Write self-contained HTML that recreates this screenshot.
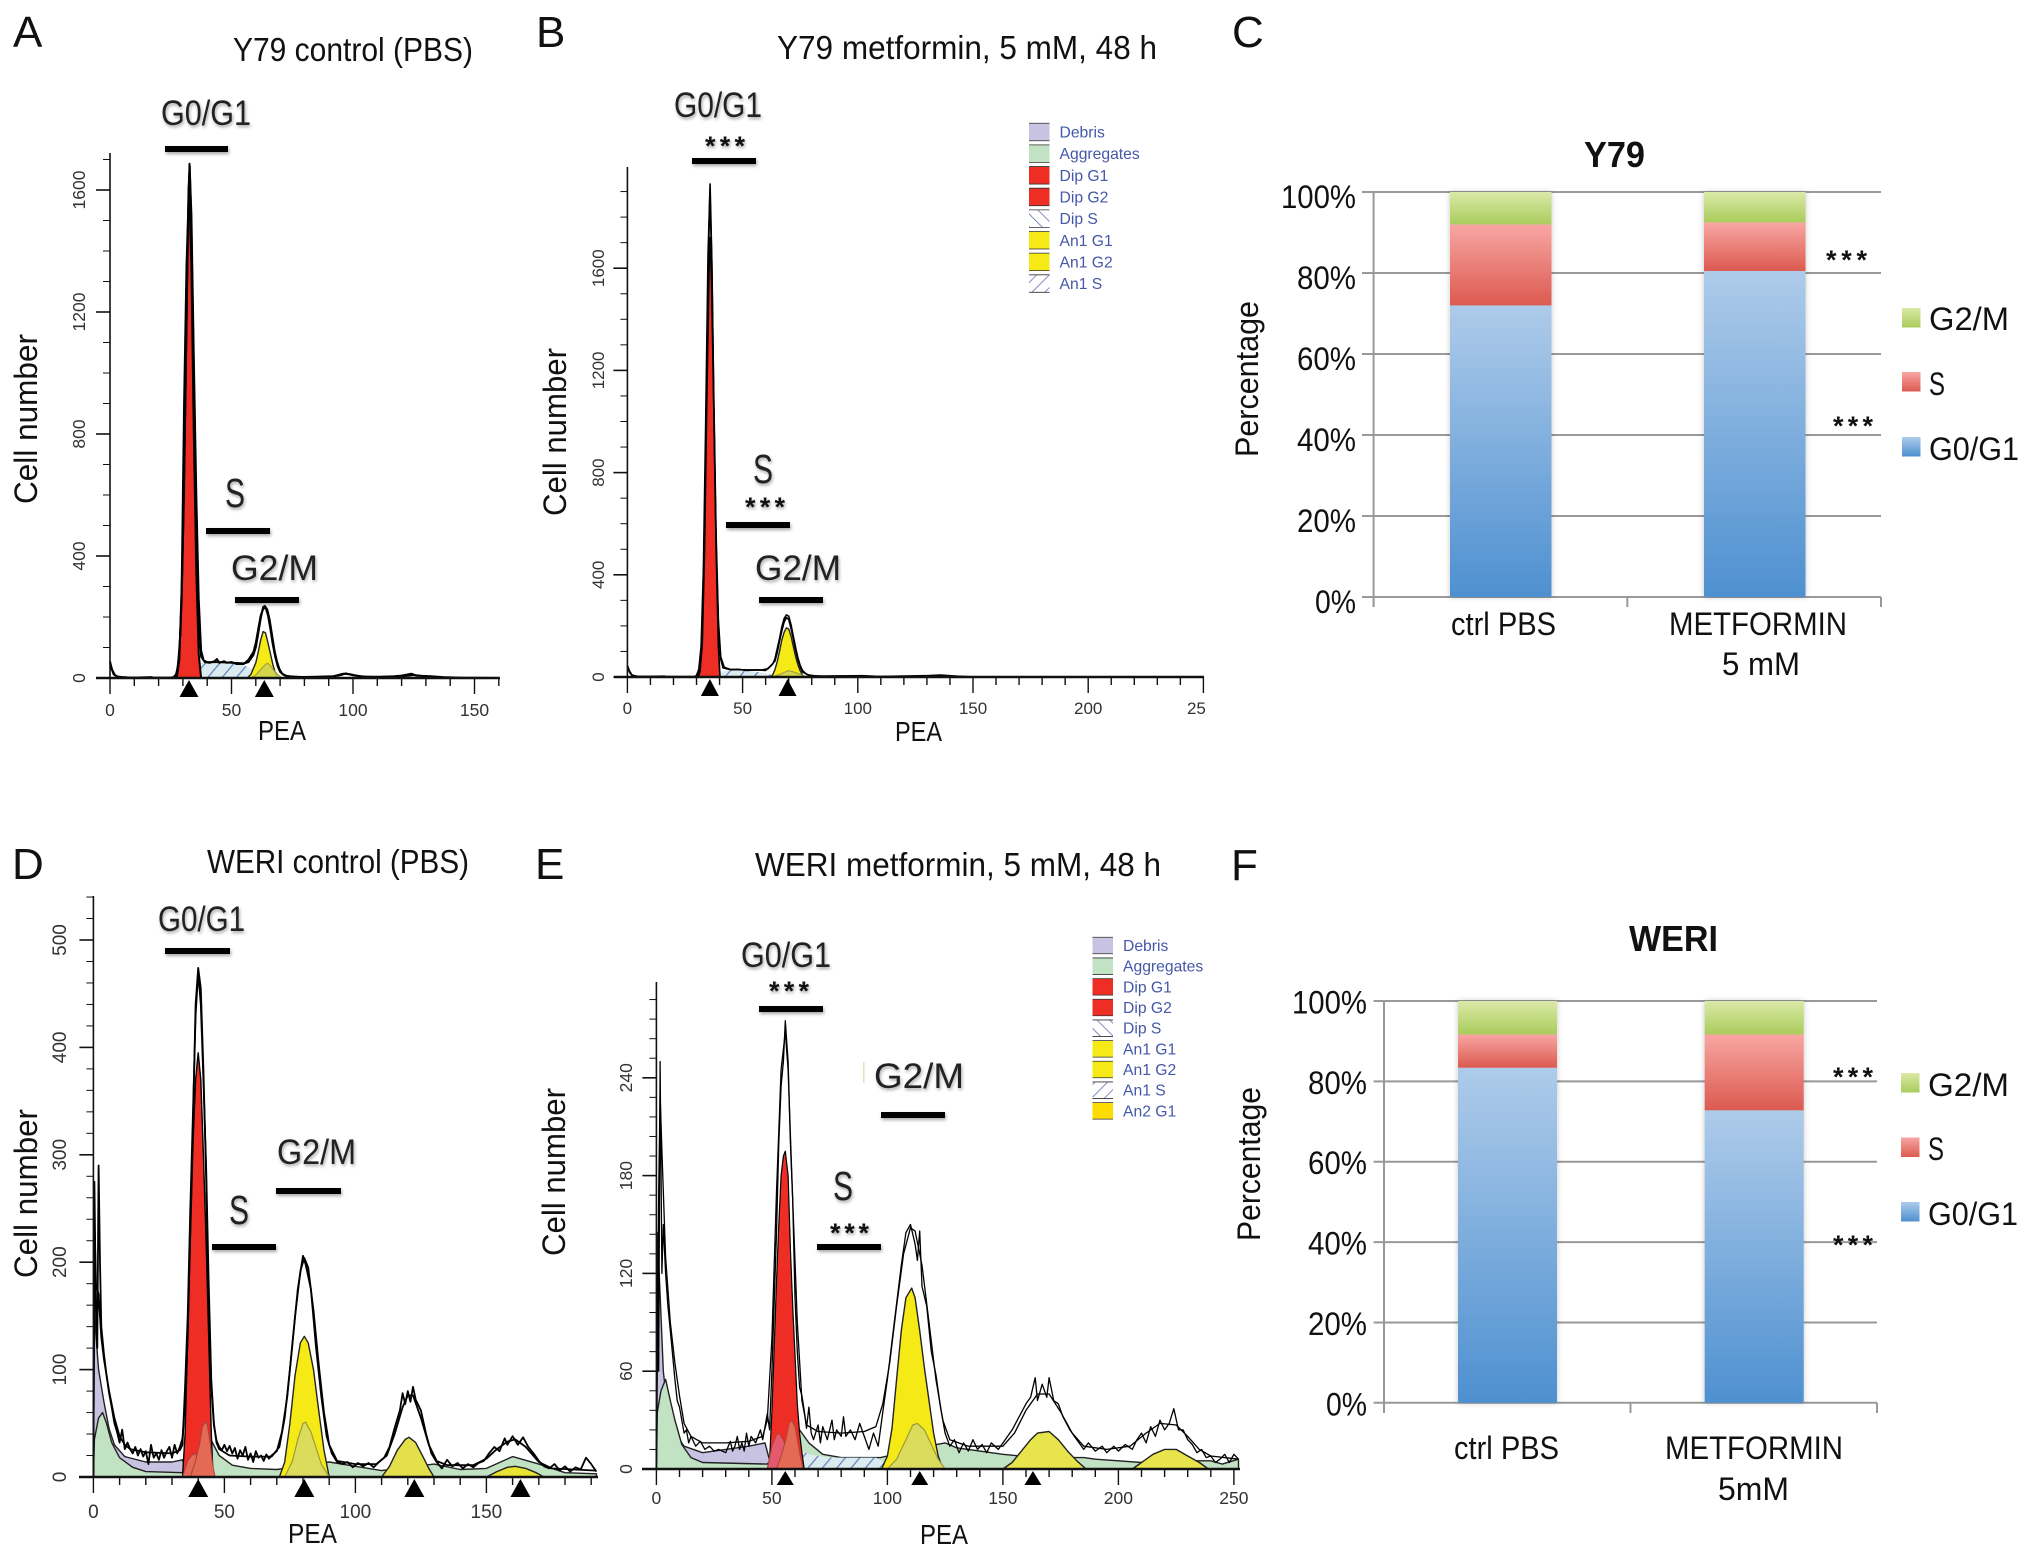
<!DOCTYPE html>
<html lang="en">
<head>
<meta charset="utf-8">
<title>Cell cycle analysis: Y79 and WERI</title>
<style>
html,body{margin:0;padding:0;background:#fff}
svg{display:block}
text{font-family:"Liberation Sans",sans-serif;fill:#111}
.letter{font-size:44px}
.title{font-size:33px}
.phase{font-size:35px;fill:#222}
.phaseS{font-size:41px;fill:#222}
.axt{font-size:32px}
.pea{font-size:28px}
.star{font-size:27px;font-weight:bold}
.cat{font-size:32px}
.bt{font-size:36px;font-weight:bold}
.shadow{filter:drop-shadow(1px 2px 1.5px rgba(0,0,0,.35))}
.barshadow{filter:drop-shadow(0 0 3px rgba(0,0,0,.22))}
</style>
</head>
<body>
<svg id="fig" xmlns="http://www.w3.org/2000/svg" width="2031" height="1557" viewBox="0 0 2031 1557">
<defs>
<pattern id="hatchBack" width="11" height="11" patternUnits="userSpaceOnUse" patternTransform="rotate(40)"><rect width="11" height="11" fill="#dcebf0"/><line x1="0" y1="0" x2="0" y2="11" stroke="#5f7fc0" stroke-width="2.4"/></pattern>
<pattern id="hatchFwd" width="9" height="9" patternUnits="userSpaceOnUse" patternTransform="rotate(-45)"><rect width="9" height="9" fill="#fff"/><line x1="0" y1="0" x2="0" y2="9" stroke="#5b6aa8" stroke-width="1.5"/></pattern>
<pattern id="hatchLeg" width="9" height="9" patternUnits="userSpaceOnUse" patternTransform="rotate(45)"><rect width="9" height="9" fill="#fff"/><line x1="0" y1="0" x2="0" y2="9" stroke="#5b6aa8" stroke-width="1.5"/></pattern>
<linearGradient id="gBlue" x1="0" y1="0" x2="0" y2="1"><stop offset="0" stop-color="#aecbea"/><stop offset="1" stop-color="#4e90d0"/></linearGradient>
<linearGradient id="gRed" x1="0" y1="0" x2="0" y2="1"><stop offset="0" stop-color="#f8a6a3"/><stop offset="1" stop-color="#dc5a50"/></linearGradient>
<linearGradient id="gGreen" x1="0" y1="0" x2="0" y2="1"><stop offset="0" stop-color="#dbe9a8"/><stop offset="1" stop-color="#a9cc5c"/></linearGradient>
</defs>
<g id="marks"></g>

<g>
<text class="letter" x="13" y="47">A</text>
<text class="letter" x="536" y="47">B</text>
<text class="letter" x="1232" y="47">C</text>
<text class="letter" x="12" y="879">D</text>
<text class="letter" x="535" y="879">E</text>
<text class="letter" x="1231" y="880">F</text>
</g>

<g>
<text class="title" x="233" y="61" textLength="240" lengthAdjust="spacingAndGlyphs">Y79 control (PBS)</text>
<text class="title" x="777" y="59" textLength="380" lengthAdjust="spacingAndGlyphs">Y79 metformin, 5 mM, 48 h</text>
<text class="title" x="207" y="873" textLength="262" lengthAdjust="spacingAndGlyphs">WERI control (PBS)</text>
<text class="title" x="755" y="876" textLength="406" lengthAdjust="spacingAndGlyphs">WERI metformin, 5 mM, 48 h</text>
</g>

<g>
<text class="axt" transform="translate(37,504) rotate(-90)" textLength="170" lengthAdjust="spacingAndGlyphs">Cell number</text>
<text class="axt" transform="translate(566,516) rotate(-90)" textLength="168" lengthAdjust="spacingAndGlyphs">Cell number</text>
<text class="axt" transform="translate(37,1278) rotate(-90)" textLength="169" lengthAdjust="spacingAndGlyphs">Cell number</text>
<text class="axt" transform="translate(565,1256) rotate(-90)" textLength="168" lengthAdjust="spacingAndGlyphs">Cell number</text>
<text class="pea" x="258" y="740" textLength="48" lengthAdjust="spacingAndGlyphs">PEA</text>
<text class="pea" x="895" y="741" textLength="47" lengthAdjust="spacingAndGlyphs">PEA</text>
<text class="pea" x="288" y="1543" textLength="49" lengthAdjust="spacingAndGlyphs">PEA</text>
<text class="pea" x="920" y="1544" textLength="48" lengthAdjust="spacingAndGlyphs">PEA</text>
<text class="axt" transform="translate(1258,457) rotate(-90)" textLength="156" lengthAdjust="spacingAndGlyphs">Percentage</text>
<text class="axt" transform="translate(1260,1241) rotate(-90)" textLength="154" lengthAdjust="spacingAndGlyphs">Percentage</text>
</g>

<g class="shadow">
<text class="phase" x="161" y="125" textLength="90" lengthAdjust="spacingAndGlyphs">G0/G1</text>
<rect x="165" y="146" width="63" height="6" fill="#000"/>
<text class="phaseS" x="225" y="507" textLength="20" lengthAdjust="spacingAndGlyphs">S</text>
<rect x="206" y="528" width="64" height="6" fill="#000"/>
<text class="phase" x="231" y="580" textLength="87" lengthAdjust="spacingAndGlyphs">G2/M</text>
<rect x="235" y="597" width="64" height="6" fill="#000"/>

<text class="phase" x="674" y="117" textLength="88" lengthAdjust="spacingAndGlyphs">G0/G1</text>
<text class="star" x="705" y="155" textLength="40">***</text>
<rect x="692" y="158" width="64" height="6" fill="#000"/>
<text class="phaseS" x="753" y="483" textLength="20" lengthAdjust="spacingAndGlyphs">S</text>
<text class="star" x="745" y="516" textLength="40">***</text>
<rect x="726" y="522" width="64" height="6" fill="#000"/>
<text class="phase" x="755" y="580" textLength="86" lengthAdjust="spacingAndGlyphs">G2/M</text>
<rect x="759" y="597" width="64" height="6" fill="#000"/>

<text class="phase" x="158" y="931" textLength="87" lengthAdjust="spacingAndGlyphs">G0/G1</text>
<rect x="165" y="948" width="65" height="6" fill="#000"/>
<text class="phaseS" x="229" y="1224" textLength="20" lengthAdjust="spacingAndGlyphs">S</text>
<rect x="212" y="1244" width="64" height="6" fill="#000"/>
<text class="phase" x="277" y="1164" textLength="79" lengthAdjust="spacingAndGlyphs">G2/M</text>
<rect x="276" y="1188" width="65" height="6" fill="#000"/>

<text class="phase" x="741" y="967" textLength="90" lengthAdjust="spacingAndGlyphs">G0/G1</text>
<text class="star" x="769" y="1000" textLength="40">***</text>
<rect x="759" y="1006" width="64" height="6" fill="#000"/>
<text class="phaseS" x="833" y="1200" textLength="20" lengthAdjust="spacingAndGlyphs">S</text>
<text class="star" x="830" y="1242" textLength="39">***</text>
<rect x="817" y="1244" width="64" height="6" fill="#000"/>
<text class="phase" x="874" y="1088" textLength="90" lengthAdjust="spacingAndGlyphs">G2/M</text>
<rect x="881" y="1112" width="64" height="6" fill="#000"/>
</g>
<rect x="863" y="1062" width="1.5" height="21" fill="#dfe6b0"/>

<g>
<text class="bt" x="1584" y="167" textLength="61" lengthAdjust="spacingAndGlyphs">Y79</text>
<text class="cat" x="1451" y="635" textLength="105" lengthAdjust="spacingAndGlyphs">ctrl PBS</text>
<text class="cat" x="1669" y="635" textLength="178" lengthAdjust="spacingAndGlyphs">METFORMIN</text>
<text class="cat" x="1722" y="675" textLength="78" lengthAdjust="spacingAndGlyphs">5 mM</text>
<text class="star" x="1826" y="269" textLength="41">***</text>
<text class="star" x="1833" y="435" textLength="40">***</text>
<text class="cat" x="1929" y="330" textLength="80" lengthAdjust="spacingAndGlyphs">G2/M</text>
<text class="cat" x="1929" y="395" textLength="16" lengthAdjust="spacingAndGlyphs">S</text>
<text class="cat" x="1929" y="460" textLength="90" lengthAdjust="spacingAndGlyphs">G0/G1</text>

<text class="bt" x="1629" y="951" textLength="89" lengthAdjust="spacingAndGlyphs">WERI</text>
<text class="cat" x="1454" y="1459" textLength="105" lengthAdjust="spacingAndGlyphs">ctrl PBS</text>
<text class="cat" x="1665" y="1459" textLength="178" lengthAdjust="spacingAndGlyphs">METFORMIN</text>
<text class="cat" x="1718" y="1500" textLength="71" lengthAdjust="spacingAndGlyphs">5mM</text>
<text class="star" x="1833" y="1086" textLength="40">***</text>
<text class="star" x="1833" y="1254" textLength="40">***</text>
<text class="cat" x="1928" y="1096" textLength="81" lengthAdjust="spacingAndGlyphs">G2/M</text>
<text class="cat" x="1928" y="1160" textLength="16" lengthAdjust="spacingAndGlyphs">S</text>
<text class="cat" x="1928" y="1225" textLength="90" lengthAdjust="spacingAndGlyphs">G0/G1</text>
</g>
</svg>

<script>
/* ---------- Panel A: Y79 control ---------- */
const aYTicks=[0,400,800,1200,1600];
const aXTicks=[0,50,100,150];
const aXLabels=["0","50","100","150"];
const aFit=[[0,50],[1,25],[2,10],[3,5],[5,3],[10,1],[25,1],[27,5],[28,40],[29,150],[30,450],[31,900],[32,1450],[32.7,1686],[33.5,1520],[34.5,1050],[35.5,600],[36.5,260],[37.5,90],[38.5,58],[40,52],[45,52],[50,50],[55,48],[57,52],[59,75],[60,100],[61,145],[62,195],[63,232],[63.7,236],[64.7,225],[65.7,190],[66.7,140],[67.7,90],[68.7,55],[69.7,30],[71,12],[73,6],[80,3],[90,3],[95,10],[97,15],[100,9],[105,4],[115,4],[120,6],[125,10],[130,5],[135,3],[140,1],[160,0]];
const aRaw=[[0,55],[0.7,30],[1.5,12],[3,4],[8,1],[17,3],[18,1],[26,1],[27.5,15],[28.5,80],[29.5,260],[30.5,620],[31.5,1150],[32.3,1600],[32.8,1680],[33.5,1480],[34.5,1000],[35.5,520],[36.5,190],[37.5,70],[39,52],[41,50],[43,55],[44,62],[45,50],[47,55],[48,50],[50,52],[52,46],[55,46],[57,60],[59,85],[60,115],[61,160],[62,205],[63,226],[64,232],[65,205],[66,160],[67,110],[68,70],[69,38],[70,20],[72,8],[76,3],[85,4],[92,6],[96,14],[99,12],[103,5],[110,3],[117,6],[120,8],[124,14],[126,8],[132,6],[137,3],[145,1],[160,0]];
const aDipS=[[30,0],[33,20],[36,42],[38,50],[42,50],[50,48],[55,42],[60,25],[64,10],[68,0]];
const aDipG1=[[27.5,0],[28.5,60],[29.5,300],[30.5,900],[31.5,1350],[32.5,1620],[33.5,1350],[34.5,800],[35.5,350],[36.5,80],[37.5,0]];
const aAn1G1=[[56.5,0],[58,12],[60,50],[61,85],[62,125],[63,152],[64,148],[65,115],[66,80],[67,45],[68,18],[69,0]];
const aDipG2=[[58,0],[60,10],[62,28],[64,45],[65,48],[66,40],[68,20],[70,5],[71,0]];
const aTriangles=[32.5,63.5];

/* ---------- Panel B: Y79 metformin ---------- */
const bYTicks=[0,400,800,1200,1600];
const bXTicks=[0,50,100,150,200,250];
const bXLabels=["0","50","100","150","200","25"];
const bFit=[[0,45],[1,22],[2,8],[4,3],[10,1],[29,1],[30,6],[31,30],[32,120],[33,420],[34,1000],[35,1650],[35.9,1930],[36.7,1600],[37.5,1050],[38.5,520],[39.5,200],[40.5,70],[41.5,36],[44,30],[50,28],[58,27],[61,32],[63,50],[64,70],[65,110],[66,150],[67,195],[68,228],[69,243],[70,238],[71,205],[72,160],[73,115],[74,75],[75,45],[76,25],[78,9],[82,3],[90,4],[100,4],[105,2],[125,2],[131,5],[135,7],[140,4],[146,2],[150,0],[250,0]];
const bRaw=[[0,40],[1,18],[2,6],[5,2],[16,3],[17,1],[30,2],[31,20],[32,90],[33,360],[34,900],[35,1560],[35.8,1900],[36.6,1640],[37.5,1100],[38.5,560],[39.5,220],[40.5,80],[42,38],[45,28],[48,30],[52,26],[56,28],[60,26],[62,42],[64,62],[65,95],[66,140],[67,180],[68,215],[69,232],[70,226],[71,190],[72,150],[73,105],[74,68],[75,40],[76,20],[79,6],[85,3],[102,5],[110,2],[132,6],[136,8],[142,4],[150,0],[250,0]];
const bDipS=[[35,0],[38,12],[41,22],[45,26],[55,22],[60,14],[65,5],[68,0]];
const bDipG1=[[30.7,0],[31.5,20],[32.5,130],[33.5,500],[34.5,1100],[35.5,1620],[35.9,1720],[36.5,1550],[37.5,1050],[38.5,500],[39.5,120],[40.2,0]];
const bAn1G1=[[62,0],[63,8],[64,28],[65,60],[66,100],[67,145],[68,175],[69,192],[70,188],[71,160],[72,120],[73,80],[74,48],[75,24],[76,8],[77,0]];
const bDipG2=[[63,0],[66,10],[68,18],[70,25],[72,20],[75,10],[78,0]];
const bTriangles=[35.8,69.5];

/* ---------- Panel D: WERI control ---------- */
const dYTicks=[0,100,200,300,400,500];
const dXTicks=[0,50,100,150];
const dXLabels=["0","50","100","150"];
const dFit=[[0,0],[0.4,240],[1,180],[2,170],[3,130],[4,110],[6,80],[8,55],[10,38],[12,30],[14,26],[20,23],[30,22],[33,25],[34,30],[35,85],[36,150],[37,250],[38,340],[39,430],[40,470],[41,440],[42,370],[43,290],[44,180],[45,90],[46,50],[47,32],[48,26],[52,20],[60,19],[68,19],[71,28],[73,55],[75,100],[77,150],[79,192],[80.5,204],[82,195],[84,155],[86,105],[88,60],[90,30],[93,15],[100,12],[108,12],[112,20],[115,40],[118,65],[120,76],[122,76],[125,55],[128,30],[131,15],[135,11],[145,11],[150,17],[154,26],[158,33],[161,35],[165,28],[170,14],[175,8],[192,6]];
const dRaw=[[0,0],[0.4,275],[1,150],[1.5,120],[2,290],[2.5,200],[3,140],[4,115],[5,95],[6,78],[7,65],[8,50],[9,42],[10,32],[11,44],[12,26],[13,32],[14,26],[15,22],[16,28],[17,20],[18,26],[19,19],[20,24],[21,12],[22,30],[23,18],[24,22],[25,16],[26,25],[27,18],[28,24],[29,28],[30,18],[31,30],[32,22],[33,28],[34,36],[35,70],[36,130],[37,230],[38,330],[39,440],[40,474],[41,455],[42,380],[43,280],[44,160],[45,85],[46,48],[47,34],[48,28],[49,25],[50,30],[51,24],[52,29],[53,22],[54,27],[55,17],[56,25],[57,20],[58,28],[59,16],[60,22],[61,14],[62,24],[63,18],[64,20],[65,15],[66,21],[67,17],[68,20],[70,24],[72,42],[74,75],[76,125],[78,175],[80,206],[81,198],[83,175],[85,120],[87,75],[89,38],[91,22],[93,14],[95,12],[97,14],[99,9],[101,13],[103,10],[105,13],[107,9],[109,14],[111,18],[113,28],[115,46],[117,62],[118,78],[119,68],[120,80],[121,70],[122,84],[123,72],[125,62],[127,40],[129,22],[131,14],[133,8],[135,16],[137,10],[139,13],[141,8],[143,12],[145,9],[147,13],[149,15],[151,22],[153,28],[155,24],[157,36],[158,30],[160,38],[162,30],[164,37],[166,28],[168,22],[170,15],[172,10],[174,8],[176,12],[178,6],[180,10],[182,5],[184,9],[186,7],[188,18],[190,12],[192,5]];
const dDebris=[[0,0],[0.4,150],[2,100],[4,70],[6,45],[8,30],[12,19],[20,14],[30,14],[34,16],[36,0]];
const dAggregates=[[0,0],[0.4,35],[2,55],[3.5,60],[5,50],[7,32],[10,18],[15,9],[20,5],[34,4],[45,34],[48,20],[53,11],[60,8],[70,7],[90,14],[100,10],[110,6],[130,12],[140,7],[150,8],[160,19],[170,12],[180,4],[192,3]];
const dDipG1=[[34,0],[35,40],[36,130],[37,220],[38,310],[39,370],[40,395],[41,370],[42,300],[43,220],[44,130],[45,40],[45.7,0]];
const dDipLow=[[34,0],[36,15],[37.5,20],[39,22],[40,15],[42,6],[44,0]];
const dDipG2=[[37,0],[39,15],[40.5,30],[41.5,45],[42.6,52],[43.5,48],[44.5,32],[45.5,12],[46.4,0]];
const dAn1G1=[[71,0],[73,14],[75,50],[77,95],[79,125],[80.5,131],[82,125],[84,100],[86,62],[88,25],[90,0]];
const dAn1G2=[[73,0],[76,15],[78,35],[80,50],[81,51],[83,42],[85,27],[87,12],[90,0]];
const dThird=[[110,0],[113,10],[116,25],[119,35],[120.5,37],[123,32],[126,18],[128,8],[130,0]];
const dFourth=[[150,0],[154,5],[158,9],[161,10],[165,8],[169,4],[172,0]];
const dTriangles=[40,80.5,122.5,163];

/* ---------- Panel E: WERI metformin ---------- */
const eYTicks=[0,60,120,180,240];
const eXTicks=[0,50,100,150,200,250];
const eXLabels=["0","50","100","150","200","250"];
const eFit=[[0,0],[0.4,60],[1,170],[1.6,230],[2.5,190],[4,130],[6,90],[8,65],[10,45],[12,28],[15,20],[20,16],[30,16],[40,17],[46,20],[48,30],[50,80],[52,170],[54,245],[55.8,268],[57,245],[59,165],[61,90],[63,42],[65,27],[70,23],[80,22],[90,23],[95,26],[98,40],[101,65],[104,100],[107,132],[110,148],[112,146],[115,125],[118,90],[121,55],[124,30],[127,18],[135,14],[150,14],[155,22],[160,36],[165,46],[170,46],[175,35],[180,22],[185,14],[195,12],[205,14],[212,22],[218,28],[225,27],[230,20],[235,12],[240,8],[252,6]];
const eRaw=[[0,0],[0.4,120],[1,60],[1.6,250],[2.4,120],[3,150],[4,120],[5,100],[6,85],[7,70],[8,55],[9,42],[10,38],[12,22],[13,24],[14,16],[15,20],[17,14],[19,17],[21,12],[23,14],[25,11],[27,12],[30,10],[32,17],[33,11],[34,14],[35,20],[36,12],[37,16],[38,11],[39,22],[40,14],[41,20],[43,16],[45,24],[46,18],[48,34],[49,24],[50,60],[52,145],[53,200],[54,235],[55,250],[55.8,275],[57,250],[58,200],[59,165],[60,105],[61,72],[62,50],[63,45],[64,36],[65,25],[66,38],[67,22],[68,18],[70,27],[71,16],[72,26],[74,18],[76,30],[77,18],[78,24],[80,20],[81,32],[82,20],[84,24],[86,18],[88,28],[90,20],[92,12],[94,22],[96,14],[98,35],[100,55],[103,90],[106,125],[108,145],[110,150],[112,138],[113,128],[114,146],[115,112],[117,100],[119,72],[121,58],[123,38],[125,22],[127,14],[129,18],[131,10],[133,16],[135,11],[137,18],[139,12],[141,15],[143,10],[145,16],[148,12],[151,18],[154,24],[157,32],[160,40],[162,44],[164,56],[165,42],[167,52],[169,44],[170,56],[172,42],[174,40],[176,32],[179,24],[182,18],[185,12],[187,16],[190,11],[193,14],[195,10],[198,14],[200,11],[203,15],[206,12],[208,18],[210,22],[212,16],[214,26],[216,20],[218,30],[220,24],[222,28],[224,37],[226,24],[228,24],[230,18],[232,15],[234,10],[236,12],[238,7],[240,8],[242,4],[244,6],[246,9],[248,4],[250,9],[252,6]];
const eDebris=[[0,0],[0.4,145],[1.5,110],[3,60],[5,35],[8,22],[12,14],[20,10],[30,12],[40,14],[47,16],[50,0]];
const eAggregates=[[0,0],[0.4,35],[2,48],[4,55],[6,42],[8,30],[11,15],[15,7],[20,4],[48,3],[55,15],[62,24],[66,16],[72,9],[80,7],[97,7],[100,8],[110,12],[125,16],[130,13],[140,11],[150,9],[165,7],[185,7],[190,6],[200,5],[210,4],[230,5],[240,5],[245,3],[252,6]];
const eDipS=[[62,12],[66,9],[75,7],[95,7],[100,3],[105,0]];
const eDipG1=[[48,0],[49,6],[50,35],[51,75],[52,115],[53,150],[54,180],[55,192],[55.8,195],[57,180],[58,135],[59,100],[60,70],[61,40],[62,22],[63,10],[64,0]];
const eDipLow=[[48,0],[50,14],[52,21],[53,22],[55,18],[57,8],[59,0]];
const eDipG2=[[52,0],[54,8],[56,18],[57.5,28],[58.5,30],[60,26],[61,18],[62,10],[63.5,0]];
const eAn1G1=[[97.5,0],[100,8],[102,25],[104,55],[106,85],[108,105],[110.5,111],[112,105],[114,85],[116,62],[118,42],[120,22],[122,8],[124,0]];
const eAn1G2=[[100,0],[104,6],[108,18],[111,27],[113,28],[116,24],[119,15],[122,6],[125,0]];
const eThird=[[150,0],[154,4],[158,11],[162,18],[165,22],[170,23],[174,18],[178,11],[182,5],[186,0]];
const eFourth=[[206,0],[210,4],[215,9],[220,12],[225,12],[230,8],[235,4],[239,0]];
const eTriangles=[55.8,114,163];

/* ---------- Legends of the histograms ---------- */
const bLegendLabels=["Debris","Aggregates","Dip G1","Dip G2","Dip S","An1 G1","An1 G2","An1 S"];
const eLegendLabels=["Debris","Aggregates","Dip G1","Dip G2","Dip S","An1 G1","An1 G2","An1 S","An2 G1"];
const legendFills={"Debris":"#c8c3e2","Aggregates":"#c2e2c4","Dip G1":"#ee2e24","Dip G2":"#ee2e24","Dip S":"url(#hatchFwd)","An1 G1":"#f5e916","An1 G2":"#f5e916","An1 S":"url(#hatchLeg)","An2 G1":"#ffdc00"};

/* ---------- Stacked bar charts ---------- */
const pctTicks=[0,20,40,60,80,100];
const y79G0G1=[72,80.5];
const y79S=[20,12];
const y79G2M=[8,7.5];
const weriG0G1=[83.4,72.8];
const weriS=[8.3,18.9];
const weriG2M=[8.3,8.3];

const NS="http://www.w3.org/2000/svg";
const marks=document.getElementById("marks");

function mk(tag,attrs,parent){
  const el=document.createElementNS(NS,tag);
  for(const k in attrs){el.setAttribute(k,attrs[k]);}
  (parent||marks).appendChild(el);
  return el;
}
function named(el,name){
  
  
  return el;
}
function linePath(pts,X,Y){
  return pts.map((p,i)=>(i?"L":"M")+X(p[0]).toFixed(1)+" "+Y(p[1]).toFixed(1)).join("");
}
function areaPath(pts,X,Y){
  return "M"+X(pts[0][0]).toFixed(1)+" "+Y(0).toFixed(1)+linePath(pts,X,Y).replace(/^M/,"L")+"L"+X(pts[pts.length-1][0]).toFixed(1)+" "+Y(0).toFixed(1)+"Z";
}

function histogram(c){
  const X=v=>c.x0+v*c.sx, Y=n=>c.y0-n*c.sy;
  const g=named(mk("g",{}),c.id+"-histogram");
  c.layers.forEach(l=>{
    const p=mk("path",{d:areaPath(l.pts,X,Y),fill:l.fill,stroke:l.stroke||"none","stroke-width":l.sw||1.4,"fill-opacity":l.op||1,"stroke-linejoin":"round"},g);
    named(p,c.id+"-"+l.name);
  });
  const r=mk("path",{d:linePath(c.raw,X,Y),fill:"none",stroke:"#000","stroke-width":c.lw,"stroke-linejoin":"round"},g);
  named(r,c.id+"-raw-histogram-line");
  const f=mk("path",{d:linePath(c.fit,X,Y),fill:"none",stroke:"#000","stroke-width":c.lw,"stroke-linejoin":"round"},g);
  named(f,c.id+"-fit-line");

  /* axes */
  const ax=named(mk("g",{stroke:"#111","stroke-width":1.6},g),c.id+"-axes");
  named(mk("line",{x1:c.x0,x2:c.x0,y1:c.top,y2:c.y0},ax),c.id+"-y-axis");
  named(mk("line",{x1:c.left,x2:c.right,y1:c.y0,y2:c.y0,"stroke-width":2.4},ax),c.id+"-x-axis");
  for(let n=0;Y(n)>c.top;n+=c.yMinor){
    const major=c.yTicks.indexOf(n)>=0;
    named(mk("line",{x1:c.x0-(major?14:7),x2:c.x0,y1:Y(n),y2:Y(n),"stroke-width":major?1.6:1},ax),c.id+"-y-tick");
  }
  for(let v=0;X(v)<=c.right+1;v+=10){
    const major=c.xTicks.indexOf(v)>=0;
    named(mk("line",{x1:X(v),x2:X(v),y1:c.y0,y2:c.y0+(major?16:8),"stroke-width":1.4},ax),c.id+"-x-tick");
  }
  c.yTicks.forEach(n=>{
    const t=mk("text",{transform:"translate("+c.yLabelX+","+Y(n)+") rotate(-90)","text-anchor":"middle",style:"font-size:"+c.tickFont+"px;fill:#333"},g);
    t.textContent=String(n);
    named(t,c.id+"-y-tick-label");
  });
  c.xTicks.forEach((v,i)=>{
    const t=mk("text",{x:X(v)-(c.xLabels[i]==="25"?7:0),y:c.xLabelY,"text-anchor":"middle",style:"font-size:"+c.tickFont+"px;fill:#333"},g);
    t.textContent=c.xLabels[i];
    named(t,c.id+"-x-tick-label");
  });
  c.triangles.forEach(v=>{
    const tx=X(v);
    const tri=mk("polygon",{points:(tx-c.triW)+","+(c.y0+c.triB)+" "+tx+","+(c.y0+c.triT)+" "+(tx+c.triW)+","+(c.y0+c.triB),fill:"#000"},g);
    named(tri,c.id+"-peak-marker");
  });
}

const outline="#222", grn="#c2e2c4", pur="#c8c3e2", red="#ee2e24", yel="#f5e916";
histogram({id:"panel-a",x0:110,y0:678,sx:2.43,sy:0.305,top:153,left:96,right:500,yMinor:100,yTicks:aYTicks,xTicks:aXTicks,xLabels:aXLabels,yLabelX:85,xLabelY:716,tickFont:17.5,lw:2,triangles:aTriangles,triW:9.5,triT:2,triB:19,fit:aFit,raw:aRaw,
 layers:[{pts:aDipS,fill:"url(#hatchBack)",name:"dip-s"},{pts:aDipG1,fill:red,name:"dip-g1",stroke:"#000",sw:2},{pts:aAn1G1,fill:yel,name:"an1-g1",stroke:outline},{pts:aDipG2,fill:"#c9cf5a",op:.8,name:"dip-g2",stroke:"#9a9a40",sw:1}]});
histogram({id:"panel-b",x0:627.4,y0:677,sx:2.304,sy:0.2555,top:167,left:614,right:1204,yMinor:100,yTicks:bYTicks,xTicks:bXTicks,xLabels:bXLabels,yLabelX:604,xLabelY:714,tickFont:17,lw:1.6,triangles:bTriangles,triW:9,triT:2,triB:19,fit:bFit,raw:bRaw,
 layers:[{pts:bDipS,fill:"url(#hatchBack)",name:"dip-s"},{pts:bDipG1,fill:red,name:"dip-g1",stroke:"#000",sw:1.6},{pts:bAn1G1,fill:yel,name:"an1-g1",stroke:outline},{pts:bDipG2,fill:"#c9cf5a",op:.8,name:"dip-g2",stroke:"#9a9a40",sw:1}]});
histogram({id:"panel-d",x0:93.4,y0:1477,sx:2.62,sy:1.074,top:896,left:79,right:598,yMinor:20,yTicks:dYTicks,xTicks:dXTicks,xLabels:dXLabels,yLabelX:66,xLabelY:1518,tickFont:19,lw:1.8,triangles:dTriangles,triW:10,triT:2,triB:20,fit:dFit,raw:dRaw,
 layers:[{pts:dDebris,fill:pur,name:"debris",stroke:outline},{pts:dAggregates,fill:grn,name:"aggregates",stroke:outline},{pts:dDipG1,fill:red,name:"dip-g1",stroke:"#000",sw:1.4},{pts:dDipLow,fill:"#e56a55",name:"dip-low",stroke:"#a8443a",sw:1},{pts:dDipG2,fill:"#e56a55",name:"dip-g2",stroke:"#a8443a",sw:1},{pts:dAn1G1,fill:yel,name:"an1-g1",stroke:outline},{pts:dAn1G2,fill:"#dcdc5c",name:"an1-g2",stroke:"#9a9a40",sw:1.2},{pts:dThird,fill:"#e4e04c",name:"an1-third-peak",stroke:outline},{pts:dFourth,fill:"#e8e434",name:"an1-fourth-peak",stroke:outline}]});
histogram({id:"panel-e",x0:656.4,y0:1469,sx:2.31,sy:1.63,top:982,left:642,right:1240,yMinor:12,yTicks:eYTicks,xTicks:eXTicks,xLabels:eXLabels,yLabelX:632,xLabelY:1504,tickFont:17.5,lw:1.3,triangles:eTriangles,triW:8.5,triT:2,triB:16,fit:eFit,raw:eRaw,
 layers:[{pts:eDebris,fill:pur,name:"debris",stroke:outline},{pts:eAggregates,fill:grn,name:"aggregates",stroke:outline},{pts:eDipS,fill:"url(#hatchBack)",name:"dip-s"},{pts:eDipG1,fill:red,name:"dip-g1",stroke:"#000",sw:1.2},{pts:eDipLow,fill:"#e2607a",name:"dip-low",op:.85,stroke:"#a8443a",sw:1},{pts:eDipG2,fill:"#e56a55",name:"dip-g2",stroke:"#a8443a",sw:1},{pts:eAn1G1,fill:yel,name:"an1-g1",stroke:outline},{pts:eAn1G2,fill:"#dcdc5c",name:"an1-g2",stroke:"#9a9a40",sw:1.2},{pts:eThird,fill:"#e8e44c",name:"an1-third-peak",stroke:outline},{pts:eFourth,fill:"#e8e44c",name:"an1-fourth-peak",stroke:outline}]});

function flowLegend(id,labels,sx,tx,startY,step,h){
  const g=named(mk("g",{}),id+"-legend");
  labels.forEach((lab,i)=>{
    const cy=startY+i*step;
    const r=mk("rect",{x:sx,y:cy-h/2,width:20.5,height:h,fill:legendFills[lab]},g);
    named(r,id+"-legend-swatch");
    const top=mk("line",{x1:sx,x2:sx+20.5,y1:cy-h/2,y2:cy-h/2,stroke:"#333","stroke-width":.8},g);
    named(top,id+"-legend-swatch-top");
    const bot=mk("line",{x1:sx,x2:sx+20.5,y1:cy+h/2,y2:cy+h/2,stroke:"#333","stroke-width":.8},g);
    named(bot,id+"-legend-swatch-bottom");
    const t=mk("text",{x:tx,y:cy+5.5,style:"font-size:15.7px;fill:#4558a8"},g);
    t.textContent=lab;
    named(t,id+"-legend-label");
  });
}
flowLegend("panel-b",bLegendLabels,1029,1059.5,132,21.65,17.5);
flowLegend("panel-e",eLegendLabels,1092.5,1123,945.5,20.67,16.5);

function stacked(c){
  const Y=p=>c.y0-p*(c.y0-c.y100)/100;
  const g=named(mk("g",{}),c.id+"-stacked-chart");
  named(mk("line",{x1:c.x0,x2:c.x0,y1:c.y100,y2:c.tickEnd,stroke:"#999","stroke-width":2},g),c.id+"-y-axis");
  c.ticks.forEach(p=>{
    const ln=mk("line",{x1:c.left,x2:c.right,y1:Y(p),y2:Y(p),stroke:"#999","stroke-width":2},g);
    named(ln,c.id+"-gridline");
    const w=p===100?75:(p===0?41:59);
    const t=mk("text",{x:c.labelRight,y:Y(p)+c.labelDy,"text-anchor":"end",textLength:w,lengthAdjust:"spacingAndGlyphs",style:"font-size:32px"},g);
    t.textContent=p+"%";
    named(t,c.id+"-y-tick-label");
  });
  [c.x0,(c.x0+c.right)/2,c.right].forEach(x=>{
    named(mk("line",{x1:x,x2:x,y1:c.y0,y2:c.tickEnd,stroke:"#999","stroke-width":2},g),c.id+"-x-tick");
  });
  c.barX.forEach((bx,i)=>{
    const a=c.g0[i], b=a+c.s[i], d=b+c.g2[i];
    const stack=named(mk("g",{class:"barshadow"},g),c.id+"-stack-"+i);
    [[0,a,"url(#gBlue)","g0g1"],[a,b,"url(#gRed)","s"],[b,d,"url(#gGreen)","g2m"]].forEach(seg=>{
      const r=mk("rect",{x:bx,y:Y(seg[1]),width:c.barW,height:Y(seg[0])-Y(seg[1]),fill:seg[2]},stack);
      named(r,c.id+"-bar-"+i+"-"+seg[3]);
    });
  });
  c.legendY.forEach((ly,i)=>{
    const r=mk("rect",{x:c.legendX,y:ly,width:18.5,height:19.5,fill:["url(#gGreen)","url(#gRed)","url(#gBlue)"][i]},g);
    named(r,c.id+"-legend-swatch");
  });
}
stacked({id:"y79",x0:1373.6,y0:597,y100:192,left:1362,right:1881,tickEnd:607,ticks:pctTicks,labelRight:1356,labelDy:16,barX:[1450,1704],barW:101.5,g0:y79G0G1,s:y79S,g2:y79G2M,legendX:1902,legendY:[308,372,437]});
stacked({id:"weri",x0:1384,y0:1402.8,y100:1001,left:1373.6,right:1877,tickEnd:1413,ticks:pctTicks,labelRight:1367,labelDy:12.5,barX:[1458,1704.7],barW:99,g0:weriG0G1,s:weriS,g2:weriG2M,legendX:1901,legendY:[1073,1137.5,1202]});
</script>
</body>
</html>
